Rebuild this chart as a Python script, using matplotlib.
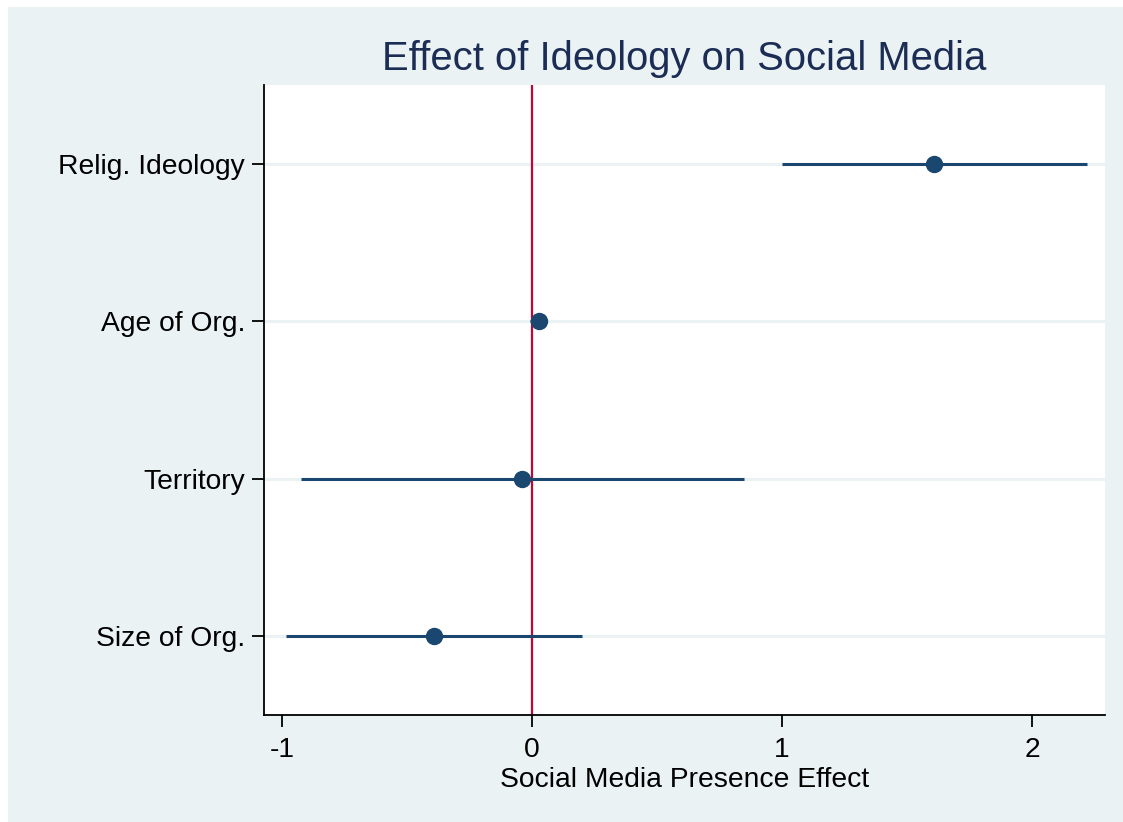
import matplotlib.pyplot as plt
from matplotlib.patches import Rectangle

plt.rcParams['font.family'] = ['Liberation Sans', 'DejaVu Sans']

# coefficient estimates with 95% confidence bounds
labels = ['Size of Org.', 'Territory', 'Age of Org.', 'Relig. Ideology']
coef = [-0.393, -0.039, 0.029, 1.609]
lower = [-0.984, -0.924, -0.008, 1.001]
upper = [0.199, 0.848, 0.060, 2.219]
xticks = [-1, 0, 1, 2]

navy = '#1a476f'
bg = '#eaf2f3'

fig = plt.figure(figsize=(11.23, 8.22), dpi=100, facecolor='white')
fig.patches.append(Rectangle((8 / 1123, 0), 1, 1 - 7 / 822, transform=fig.transFigure,
                             facecolor=bg, edgecolor='none', zorder=-10))

ax = fig.add_axes([264 / 1123, 107 / 822, 841 / 1123, 630 / 822])
ax.set_facecolor('white')

ys = list(range(1, len(labels) + 1))
for y in ys:
    ax.axhline(y, color=bg, lw=2.2, zorder=1)
ax.axvline(0, color='#c10534', lw=1.6, zorder=2)

ax.hlines(ys, lower, upper, color=navy, lw=2.2, zorder=3)
ax.plot(coef, ys, 'o', color=navy, markersize=11.5, zorder=4)

ax.set_xlim(-1.072, 2.292)
ax.set_ylim(0.5, 4.5)
ax.set_xticks(xticks)
ax.set_xticklabels([str(t) for t in xticks])
ax.set_yticks(ys)
ax.set_yticklabels(labels)

for s in ['top', 'right']:
    ax.spines[s].set_visible(False)
for s in ['left', 'bottom']:
    ax.spines[s].set_linewidth(1.3)

ax.tick_params(axis='both', length=8.5, width=1.3, labelsize=20.3, direction='out')
ax.tick_params(axis='x', pad=7)
ax.tick_params(axis='y', pad=5)

ax.set_xlabel('Social Media Presence Effect', fontsize=20.3, labelpad=3)
ax.set_title('Effect of Ideology on Social Media', fontsize=28.8, color='#1c2d55', pad=11)

fig.savefig('out.png', dpi=100, facecolor=fig.get_facecolor())
